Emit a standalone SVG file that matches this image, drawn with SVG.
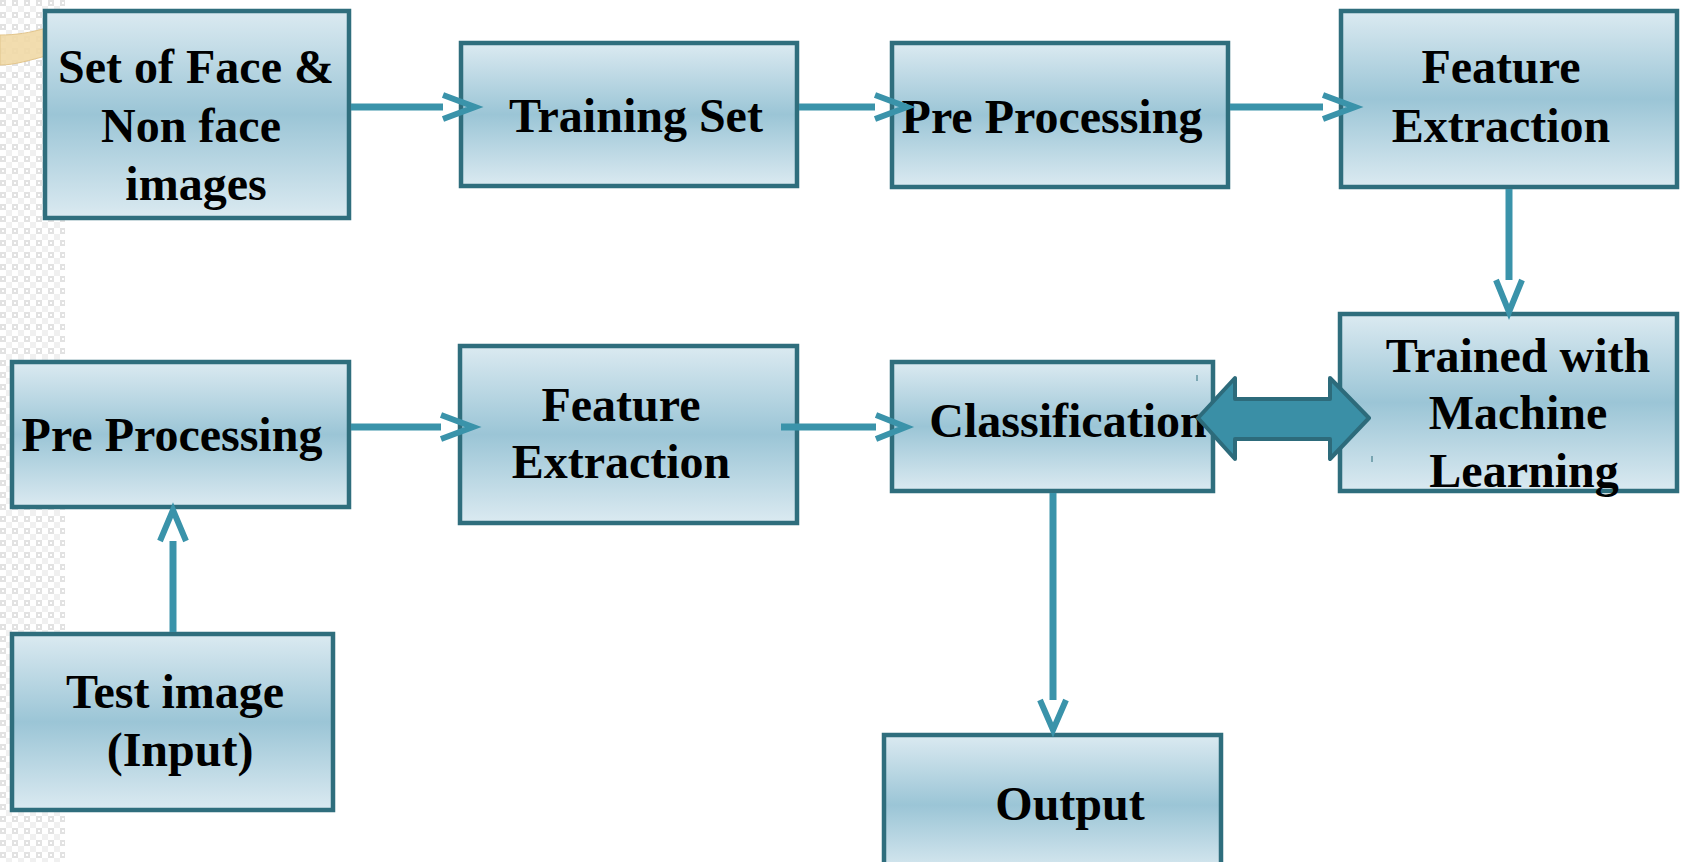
<svg xmlns="http://www.w3.org/2000/svg" width="1685" height="862" viewBox="0 0 1685 862">
  <style>
    .box { fill: url(#boxFill); stroke: #2f6e7d; stroke-width: 4.5; }
    .lbl { font-family: "Liberation Serif", "Times New Roman", serif; font-weight: bold; font-size: 48px; fill: #000; text-anchor: middle; }
    .wire { stroke: #3a93aa; stroke-width: 7; fill: none; }
    .head { stroke: #3a93aa; stroke-width: 6; fill: none; }
  </style>
  <defs>
    <linearGradient id="boxFill" x1="0" y1="0" x2="0" y2="1">
      <stop offset="0" stop-color="#dbeaf1"/>
      <stop offset="0.5" stop-color="#9bc5d6"/>
      <stop offset="1" stop-color="#dbeaf1"/>
    </linearGradient>
    <pattern id="checks" width="12" height="12" patternUnits="userSpaceOnUse">
      <rect width="12" height="12" fill="#ffffff"/>
      <rect x="0" y="0" width="6" height="6" fill="#e2e2e2"/>
      <rect x="2" y="2" width="2" height="2" fill="#ffffff"/>
      <rect x="6" y="6" width="6" height="6" fill="#f0f0f0"/>
    </pattern>
  </defs>

  <!-- page backdrop -->
  <rect width="1685" height="862" fill="#ffffff"/>
  <rect x="0" y="0" width="65" height="862" fill="url(#checks)"/>
  <path d="M0,35 C15,35 30,33 46,28 L46,56 C30,60 15,65 0,65 Z" fill="#f1d9a6" fill-opacity="0.9" stroke="#e2c58c" stroke-width="1"/>

  <!-- nodes -->
  <g id="node-face-set">
    <rect class="box" x="45" y="11" width="304" height="207"/>
    <text class="lbl" x="196" y="83">Set of Face &amp;</text>
    <text class="lbl" x="191" y="142">Non face</text>
    <text class="lbl" x="196" y="200">images</text>
  </g>

  <g id="node-training-set">
    <rect class="box" x="461" y="43" width="336" height="143"/>
    <text class="lbl" x="636" y="132">Training Set</text>
  </g>

  <g id="node-preprocess-train">
    <rect class="box" x="892" y="43" width="336" height="144"/>
    <text class="lbl" x="1052" y="133">Pre Processing</text>
  </g>

  <g id="node-feature-train">
    <rect class="box" x="1341" y="11" width="336" height="176"/>
    <text class="lbl" x="1501" y="83">Feature</text>
    <text class="lbl" x="1501" y="142">Extraction</text>
  </g>

  <g id="node-trained-ml">
    <rect class="box" x="1340" y="314" width="337" height="177"/>
    <text class="lbl" x="1518" y="372">Trained with</text>
    <text class="lbl" x="1518" y="429">Machine</text>
    <text class="lbl" x="1524" y="487">Learning</text>
  </g>

  <g id="node-preprocess-test">
    <rect class="box" x="12" y="362" width="337" height="145"/>
    <text class="lbl" x="172" y="451">Pre Processing</text>
  </g>

  <g id="node-feature-test">
    <rect class="box" x="460" y="346" width="337" height="177"/>
    <text class="lbl" x="621" y="421">Feature</text>
    <text class="lbl" x="621" y="478">Extraction</text>
  </g>

  <g id="node-classification">
    <rect class="box" x="892" y="362" width="321" height="129"/>
    <text class="lbl" x="1068" y="437">Classification</text>
    <line x1="1197" y1="375" x2="1197" y2="381" stroke="#2f6e7d" stroke-width="1"/>
  </g>

  <g id="node-test-image">
    <rect class="box" x="12" y="634" width="321" height="176"/>
    <text class="lbl" x="175" y="708">Test image</text>
    <text class="lbl" x="180" y="766">(Input)</text>
  </g>

  <g id="node-output">
    <rect class="box" x="884" y="735" width="337" height="140"/>
    <text class="lbl" x="1070" y="820">Output</text>
  </g>

  <!-- connectors -->
  <g id="connectors">
    <line class="wire" x1="351" y1="107" x2="443" y2="107"/>
    <polyline class="head" points="443,95 475,107 443,119"/>

    <line class="wire" x1="799" y1="107" x2="875" y2="107"/>
    <polyline class="head" points="875,95 907,107 875,119"/>

    <line class="wire" x1="1230" y1="107" x2="1323" y2="107"/>
    <polyline class="head" points="1323,95 1355,107 1323,119"/>

    <line class="wire" x1="1509" y1="189" x2="1509" y2="280"/>
    <polyline class="head" points="1496,280 1509,312 1522,280"/>

    <line class="wire" x1="351" y1="427" x2="441" y2="427"/>
    <polyline class="head" points="441,415 473,427 441,439"/>

    <line class="wire" x1="781" y1="427" x2="876" y2="427"/>
    <polyline class="head" points="876,415 906,427 876,439"/>

    <line class="wire" x1="173" y1="632" x2="173" y2="541"/>
    <polyline class="head" points="160,541 173,510 186,541"/>

    <line class="wire" x1="1053" y1="493" x2="1053" y2="700"/>
    <polyline class="head" points="1040,700 1053,730 1066,700"/>
  </g>

  <!-- two-way link between classifier and trained model -->
  <g id="link-classify-train">
    <path d="M1198,418 L1235,378 L1235,399 L1330,399 L1330,378 L1369,418 L1330,459 L1330,439 L1235,439 L1235,459 Z" fill="#3a8fa6" stroke="#2d6b7b" stroke-width="4" stroke-linejoin="round"/>
    <line x1="1372" y1="456" x2="1372" y2="462" stroke="#2f6e7d" stroke-width="1"/>
  </g>
</svg>
